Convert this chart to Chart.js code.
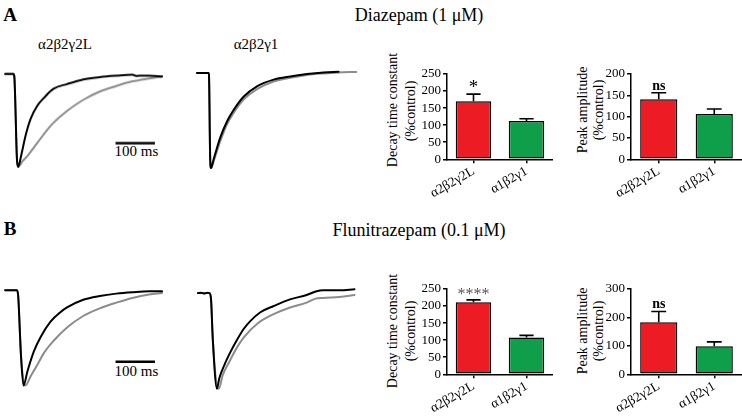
<!DOCTYPE html>
<html>
<head>
<meta charset="utf-8">
<script src="https://cdn.jsdelivr.net/npm/chart.js@4.4.0/dist/chart.umd.min.js"></script>
<style>
    html, body { margin: 0; padding: 0; background: #fff; }
    body { width: 742px; height: 417px; position: relative; overflow: hidden;
           font-family: 'Liberation Serif', 'Times New Roman', serif; color: #000; }
    .box { position: absolute; }
    .txt { position: absolute; transform: translate(-50%, -50%); white-space: nowrap; line-height: 1; }
    .vtxt { position: absolute; transform: translate(-50%, -50%) rotate(-90deg); white-space: nowrap;
            line-height: 1; font-size: 14px; }
</style>
</head>
<body>

<div class="txt" style="left:10px;top:14px;font-size:19px;font-weight:bold;">A</div>
<div class="txt" style="left:419px;top:15px;font-size:18px;">Diazepam (1 μM)</div>
<div class="txt" style="left:65px;top:44px;font-size:15px;">α2β2γ2L</div>
<div class="txt" style="left:256px;top:44px;font-size:15px;">α2β2γ1</div>
<div class="txt" style="left:136.5px;top:150.5px;font-size:15px;">100 ms</div>

<div class="txt" style="left:10px;top:228px;font-size:19px;font-weight:bold;">B</div>
<div class="txt" style="left:419px;top:230px;font-size:18px;">Flunitrazepam (0.1 μM)</div>
<div class="txt" style="left:136.5px;top:371px;font-size:15px;">100 ms</div>

<div class="vtxt" style="left:393px;top:110px;">Decay time constant</div>
<div class="vtxt" style="left:411px;top:111px;">(%control)</div>
<div class="vtxt" style="left:583px;top:110px;">Peak amplitude</div>
<div class="vtxt" style="left:599px;top:110px;">(%control)</div>
<div class="vtxt" style="left:393px;top:331px;">Decay time constant</div>
<div class="vtxt" style="left:411px;top:331px;">(%control)</div>
<div class="vtxt" style="left:583px;top:331px;">Peak amplitude</div>
<div class="vtxt" style="left:599px;top:331px;">(%control)</div>

<div class="box" id="trA1"><canvas></canvas></div>
<div class="box" id="trA2"><canvas></canvas></div>
<div class="box" id="trB1"><canvas></canvas></div>
<div class="box" id="trB2"><canvas></canvas></div>
<div class="box" id="decayA"><canvas></canvas></div>
<div class="box" id="peakA"><canvas></canvas></div>
<div class="box" id="decayB"><canvas></canvas></div>
<div class="box" id="peakB"><canvas></canvas></div>

<script>
// ── Traces: time in ms from trace start, current normalised to peak (-1) ──
// A, α2β2γ2L
const a1BlackT = [0, 21, 23, 30, 33, 40, 52, 65, 82, 98, 123, 157, 198, 240, 282, 323, 332, 340, 365, 398];
const a1BlackY = [0, 0, -0.02, -0.93, -1, -0.89, -0.66, -0.48, -0.34, -0.26, -0.16, -0.11, -0.06, -0.035, -0.02, -0.01, -0.022, -0.02, -0.02, -0.028];
const a1GrayT  = [0, 21, 23, 30, 33, 44, 57, 82, 115, 157, 198, 240, 282, 323, 365, 398];
const a1GrayY  = [0, 0, -0.02, -0.93, -1, -0.94, -0.88, -0.74, -0.56, -0.40, -0.28, -0.19, -0.13, -0.08, -0.05, -0.03];
// A, α2β2γ1
const a2BlackT = [0, 29, 30, 33, 35, 41.5, 58, 75, 91.5, 116.5, 150, 191.5, 233, 275, 316.5, 354];
const a2BlackY = [0, 0, -0.03, -0.91, -1, -0.91, -0.68, -0.51, -0.39, -0.25, -0.14, -0.07, -0.036, -0.011, 0.006, 0.014];
const a2GrayT  = [0, 29, 30, 33, 35, 41.5, 58, 75, 91.5, 116.5, 150, 191.5, 233, 275, 316.5, 354, 398];
const a2GrayY  = [0, 0, -0.03, -0.91, -1, -0.93, -0.72, -0.54, -0.42, -0.28, -0.17, -0.09, -0.05, -0.02, -0.004, 0.006, 0.011];
// B, α2β2γ2L
const b1BlackT = [0, 30, 33, 40, 46.5, 56.5, 73, 90, 115, 140, 157, 198, 240, 282, 323, 365, 398];
const b1BlackY = [0, 0, -0.06, -0.68, -1, -0.85, -0.64, -0.49, -0.33, -0.23, -0.18, -0.10, -0.06, -0.035, -0.02, -0.01, -0.01];
const b1GrayT  = [0, 30, 33, 40, 47, 51, 65, 82, 98, 123, 157, 198, 240, 282, 323, 365, 398];
const b1GrayY  = [0, 0, -0.06, -0.68, -0.97, -1, -0.90, -0.78, -0.66, -0.53, -0.39, -0.27, -0.19, -0.13, -0.08, -0.044, -0.028];
// B, α2β2γ1
const b2BlackT = [0, 8, 16, 24, 29, 33, 37.5, 48, 54, 67, 83, 100, 116.5, 133, 158, 191.5, 233, 275, 300, 316.5, 358, 396];
const b2BlackY = [0, 0.005, -0.005, 0.005, 0, -0.06, -0.48, -1, -0.89, -0.75, -0.61, -0.48, -0.37, -0.29, -0.20, -0.135, -0.065, -0.02, 0.02, 0.03, 0.03, 0.04];
const b2GrayT  = [0, 29, 33, 37.5, 48, 53, 62.5, 79, 100, 116.5, 150, 191.5, 233, 275, 296, 316.5, 358, 396];
const b2GrayY  = [0, 0, -0.06, -0.48, -0.97, -1, -0.86, -0.72, -0.56, -0.46, -0.32, -0.22, -0.15, -0.10, -0.06, -0.05, -0.04, -0.02];
// 100 ms scale bar
const scaleBarT = [280, 380];
const scaleBarA = -0.745;
const scaleBarB = -0.75;

// ── Bar summaries (% control) ─────────────────────────────────
const groups     = ['α2β2γ2L', 'α1β2γ1'];
const barColors  = ['#ed1c24', '#0f9f4b'];
const decayA     = [170, 112];
const decayAErr  = [21, 7];
const decayASig  = ['*', ''];
const peakA      = [141, 106];
const peakAErr   = [15, 12];
const peakASig   = ['ns', ''];
const decayB     = [211, 108];
const decayBErr  = [7, 6];
const decayBSig  = ['****', ''];
const peakB      = [183, 99];
const peakBErr   = [38, 15];
const peakBSig   = ['ns', ''];

const FONT = 'Liberation Serif';

// ── Trace panels ──────────────────────────────────────────────
function drawTrace(id, left, baseY, unit, blackT, blackY, grayT, grayY, barLevel) {
    const el = document.getElementById(id);
    el.style.left = left + 'px';
    el.style.top = (baseY - 0.2 * unit) + 'px';
    el.style.width = '170px';
    el.style.height = (1.4 * unit) + 'px';

    const pts = (t, y) => t.map((v, i) => ({ x: v, y: y[i] }));
    const line = (data, color, w) => ({
        data, borderColor: color, borderWidth: w, pointRadius: 0, fill: false,
        cubicInterpolationMode: 'monotone', borderJoinStyle: 'round', borderCapStyle: 'round',
    });

    const datasets = [
        line(pts(blackT, blackY), '#000', 2),
        line(pts(grayT, grayY), '#8c8c8c', 2),
    ];
    if (barLevel !== undefined) {
        const bar = line(scaleBarT.map(t => ({ x: t, y: barLevel })), '#000', 2.5);
        bar.cubicInterpolationMode = 'default';
        bar.borderCapStyle = 'butt';
        datasets.unshift(bar);
    }

    new Chart(el.querySelector('canvas'), {
        type: 'line',
        data: { datasets },
        options: {
            responsive: true,
            maintainAspectRatio: false,
            animation: false,
            events: [],
            layout: { padding: 0 },
            plugins: { legend: { display: false }, tooltip: { enabled: false } },
            scales: {
                x: { type: 'linear', display: false, min: -10, max: 415 },
                y: { type: 'linear', display: false, min: -1.2, max: 0.2 },
            },
        },
    });
}

drawTrace('trA1', 0, 73, 94, a1BlackT, a1BlackY, a1GrayT, a1GrayY, scaleBarA);
drawTrace('trA2', 192.7, 73.3, 95, a2BlackT, a2BlackY, a2GrayT, a2GrayY);
drawTrace('trB1', 0, 289, 97, b1BlackT, b1BlackY, b1GrayT, b1GrayY, scaleBarB);
drawTrace('trB2', 192.7, 292, 97, b2BlackT, b2BlackY, b2GrayT, b2GrayY);

// ── Error bars + significance marks ───────────────────────────
const errorBars = {
    id: 'errorBars',
    afterDatasetsDraw(chart) {
        const ctx = chart.ctx;
        const y = chart.scales.y;
        chart.data.datasets.forEach((ds, i) => {
            chart.getDatasetMeta(i).data.forEach((bar, j) => {
                const top = y.getPixelForValue(ds.data[j] + ds.errors[j]);
                const half = bar.width * 0.2;
                ctx.save();
                ctx.strokeStyle = '#000';
                ctx.lineWidth = 1.6;
                ctx.beginPath();
                ctx.moveTo(bar.x, bar.y);
                ctx.lineTo(bar.x, top);
                ctx.moveTo(bar.x - half, top);
                ctx.lineTo(bar.x + half, top);
                ctx.stroke();
                const s = ds.sig[j];
                if (s) {
                    const isNs = s === 'ns';
                    ctx.font = isNs ? 'bold 14px ' + FONT : (s.length === 1 ? '19px ' : '16px ') + FONT;
                    ctx.fillStyle = isNs || s.length === 1 ? '#000' : '#555';
                    ctx.textAlign = 'center';
                    ctx.textBaseline = 'alphabetic';
                    ctx.fillText(s, bar.x, top - (isNs ? 3 : 1));
                }
                ctx.restore();
            });
        });
    },
};

// ── Bar panels ────────────────────────────────────────────────
function drawBars(id, left, areaTop, yWidth, right, yMax, step, values, errors, sig) {
    const el = document.getElementById(id);
    el.style.left = left + 'px';
    el.style.top = (areaTop - 10) + 'px';
    el.style.width = (right - left) + 'px';
    el.style.height = (10 + 85.3 + 50) + 'px';

    new Chart(el.querySelector('canvas'), {
        type: 'bar',
        data: {
            labels: groups,
            datasets: [{
                data: values, errors, sig,
                backgroundColor: barColors,
                borderColor: '#000',
                borderWidth: 1.5,
                borderSkipped: false,
                barPercentage: 0.67,
                categoryPercentage: 1,
            }],
        },
        options: {
            responsive: true,
            maintainAspectRatio: false,
            animation: false,
            events: [],
            layout: { padding: { top: 10, left: 0, right: 0, bottom: 0 } },
            plugins: { legend: { display: false }, tooltip: { enabled: false } },
            scales: {
                x: {
                    grid: { offset: false, drawOnChartArea: false, color: '#000', tickLength: 4, lineWidth: 1.5 },
                    border: { color: '#000', width: 1.5 },
                    ticks: { color: '#000', font: { family: FONT, size: 13.5 }, minRotation: 30, maxRotation: 30, padding: 0 },
                    afterFit: s => { s.height = 50; },
                },
                y: {
                    min: 0,
                    max: yMax,
                    ticks: { stepSize: step, autoSkip: false, color: '#000', font: { family: FONT, size: 13 }, padding: 2 },
                    grid: { drawOnChartArea: false, color: '#000', tickLength: 4, lineWidth: 1.5 },
                    border: { color: '#000', width: 1.5 },
                    afterFit: s => { s.width = yWidth; },
                },
            },
        },
        plugins: [errorBars],
    });
}

drawBars('decayA', 380, 74, 67, 553, 250, 50, decayA, decayAErr, decayASig);
drawBars('peakA', 570, 74, 61, 742, 200, 50, peakA, peakAErr, peakASig);
drawBars('decayB', 380, 289, 67, 553, 250, 50, decayB, decayBErr, decayBSig);
drawBars('peakB', 570, 289, 61, 742, 300, 100, peakB, peakBErr, peakBSig);
</script>
</body>
</html>
